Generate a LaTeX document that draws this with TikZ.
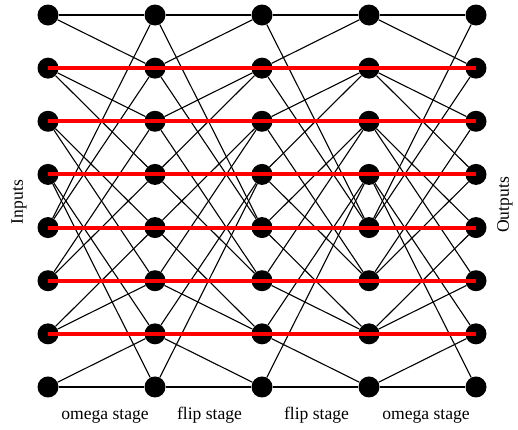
\documentclass[tikz,border=0pt]{standalone}
\usepackage{fontspec}
\setmainfont{Liberation Serif}
\begin{document}
\begin{tikzpicture}[x=1pt,y=-1pt,
  dot/.style={circle,fill=black,inner sep=0pt,minimum size=21pt},
  wire/.style={line width=1.1pt},
  redbar/.style={color=red,line width=4pt},
  lbl/.style={font=\fontsize{17.6}{20}\selectfont,inner sep=0pt}]
\useasboundingbox (0,0) rectangle (518,429);
\foreach \c/\x in {0/48,1/155,2/262,3/369,4/476}
  \foreach \r in {0,...,7}
    \node[dot] (n\c-\r) at (\x,{15+\r*53.14}) {};
% omega stages (perfect shuffle)
\foreach \s/\t in {0/1,3/4}
  \foreach \i in {0,...,7}{
    \pgfmathtruncatemacro\a{mod(2*\i,8)}
    \pgfmathtruncatemacro\b{\a+1}
    \draw[wire] (n\s-\i) -- (n\t-\a);
    \draw[wire] (n\s-\i) -- (n\t-\b);
  }
% flip stages (inverse shuffle)
\foreach \s/\t in {1/2,2/3}
  \foreach \i in {0,...,7}{
    \pgfmathtruncatemacro\a{floor(\i/2)}
    \pgfmathtruncatemacro\b{\a+4}
    \draw[wire] (n\s-\i) -- (n\t-\a);
    \draw[wire] (n\s-\i) -- (n\t-\b);
  }
% red bars
\foreach \r in {1,...,6}
  \draw[redbar] (n0-\r.center) -- (n4-\r.center);
% labels
\node[lbl,anchor=base] (l1) at (105,419) {omega stage};
\node[lbl,anchor=base] (l2) at (209.5,419) {flip stage};
\node[lbl,anchor=base] (l3) at (316.5,419) {flip stage};
\node[lbl,anchor=base] (l4) at (426,419) {omega stage};
\node[lbl,rotate=90] (in) at (19,202) {Inputs};
\node[lbl,rotate=90] (out) at (505,205) {Outputs};
\end{tikzpicture}
\end{document}
